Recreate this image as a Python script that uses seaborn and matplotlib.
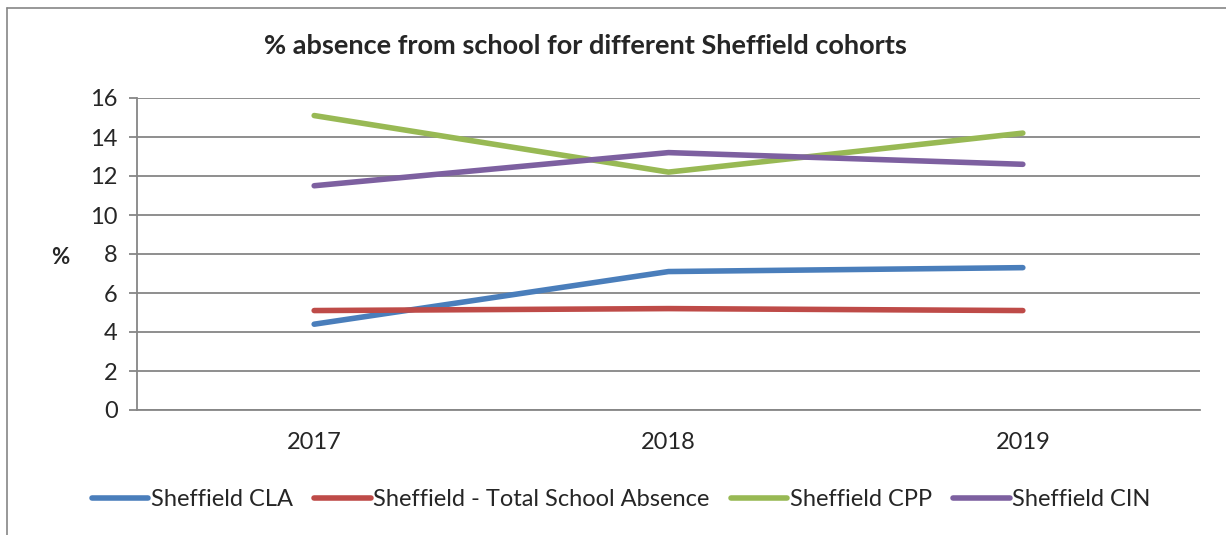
import matplotlib
matplotlib.use("Agg")
import matplotlib.pyplot as plt
from matplotlib.lines import Line2D
import seaborn as sns
import pandas as pd

years = ["2017", "2018", "2019"]
cla = [4.4, 7.1, 7.3]
total_absence = [5.1, 5.2, 5.1]
cpp = [15.1, 12.2, 14.2]
cin = [11.5, 13.2, 12.6]
series_names = ["Sheffield CLA", "Sheffield - Total School Absence",
                "Sheffield CPP", "Sheffield CIN"]
colors = ["#4A7EBB", "#BE4B48", "#98B954", "#7D60A0"]

rows = []
for name, vals in zip(series_names, [cla, total_absence, cpp, cin]):
    for i, (yr, v) in enumerate(zip(years, vals)):
        rows.append({"pos": i, "year": yr, "value": v, "series": name})
df = pd.DataFrame(rows)

sns.set_theme(style="white")
plt.rcParams["font.family"] = ["Lato", "DejaVu Sans"]

fig = plt.figure(figsize=(12.26, 5.35), dpi=100)
ax = fig.add_axes([137 / 1226, 1 - 410 / 535, (1200 - 137) / 1226, (410 - 98) / 535])

sns.lineplot(data=df, x="pos", y="value", hue="series", hue_order=series_names,
             palette=colors, linewidth=4, ax=ax, legend=False,
             solid_capstyle="round")

grid_c = "#868686"
ax.set_xlim(-0.5, 2.5)
ax.set_ylim(0, 16)
ax.set_yticks(range(0, 17, 2))
ax.yaxis.grid(True, color=grid_c, linewidth=1.3)
ax.set_axisbelow(True)
for s in ["top", "right"]:
    ax.spines[s].set_visible(False)
for s in ["left", "bottom"]:
    ax.spines[s].set_color(grid_c)
    ax.spines[s].set_linewidth(1.3)

ax.set_xticks([0, 1, 2])
ax.set_xticklabels(years)
ax.set_xticks([-0.5, 0.5, 1.5, 2.5], minor=True)
ax.tick_params(axis="x", which="major", length=0, pad=16, labelsize=17)
ax.tick_params(axis="x", which="minor", length=6, width=1.3, color=grid_c, direction="out")
ax.tick_params(axis="y", length=6, width=1.3, color=grid_c, direction="out", pad=8, labelsize=17, left=True)
ax.set_xlabel("")
ax.set_ylabel("")

fig.text(60 / 1226, 1 - 258 / 535, "%", ha="center", va="center",
         fontsize=16, fontweight="bold")

fig.text(585 / 1226, 1 - 46 / 535, "% absence from school for different Sheffield cohorts",
         ha="center", va="center", fontsize=19.5, fontweight="bold")

handles = [Line2D([], [], color=c, linewidth=4, solid_capstyle="round") for c in colors]
fig.legend(handles, series_names, loc="center", bbox_to_anchor=(621 / 1226, 1 - 500 / 535),
           ncol=4, frameon=False, fontsize=17, handlelength=2.4, handletextpad=0.1,
           columnspacing=0.9)

# chart frame
fig.add_artist(Line2D([7 / 1226, 7 / 1226], [0, 1 - 8 / 535], color=grid_c, linewidth=1.2,
                      transform=fig.transFigure))
fig.add_artist(Line2D([7 / 1226, 1], [1 - 8 / 535, 1 - 8 / 535], color=grid_c, linewidth=1.2,
                      transform=fig.transFigure))

fig.savefig("out.png", dpi=100)
